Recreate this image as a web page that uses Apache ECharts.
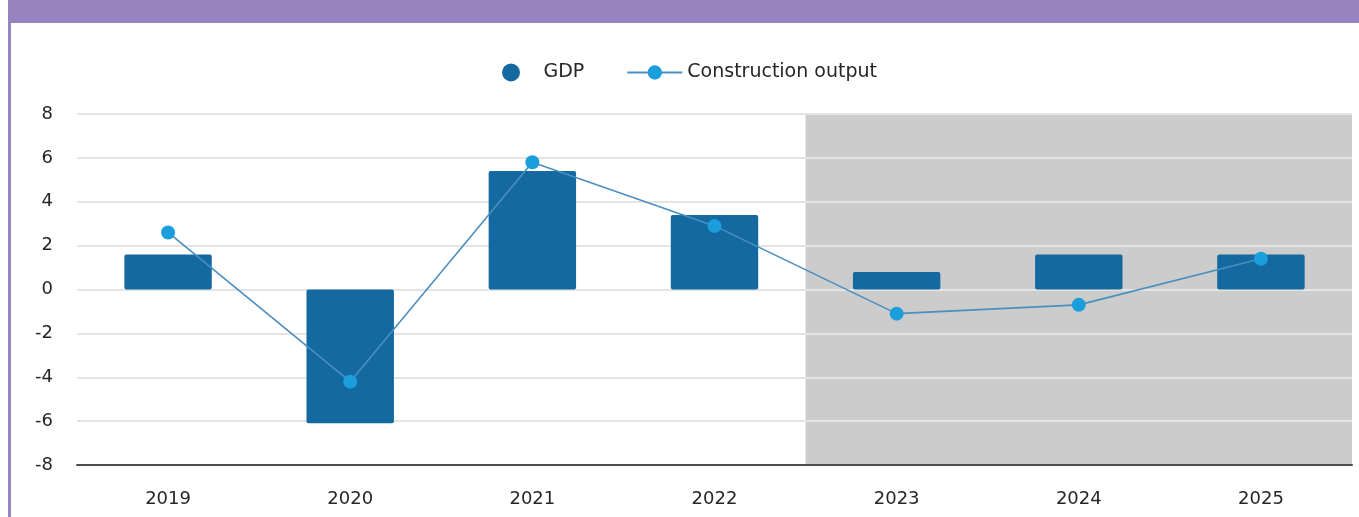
<!DOCTYPE html>
<html>
<head>
<meta charset="utf-8">
<script src="https://cdn.jsdelivr.net/npm/echarts@6/dist/echarts.min.js"></script>
<style>
  html, body { margin: 0; padding: 0; background: #ffffff; }
  #wrap { position: relative; width: 1359px; height: 517px; overflow: hidden; }
  #chart { position: absolute; left: 0; top: 0; width: 1359px; height: 517px; }
  #band { position: absolute; left: 8px; top: 0; width: 1351px; height: 23px; background: #9683c0; }
  #edge { position: absolute; left: 8px; top: 0; width: 3px; height: 517px; background: #9683c0; }
</style>
</head>
<body>
<div id="wrap">
  <div id="chart"></div>
  <div id="band"></div>
  <div id="edge"></div>
</div>
<script>
// ---- data ----
const categories = ['2019', '2020', '2021', '2022', '2023', '2024', '2025'];
const gdp = [1.6, -6.1, 5.4, 3.4, 0.8, 1.6, 1.6];
const construction = [2.6, -4.2, 5.8, 2.9, -1.1, -0.7, 1.4];
const forecastStart = '2023';
const yMin = -8, yMax = 8, yStep = 2;

const FONT = 'DejaVu Sans';
const startIdx = categories.indexOf(forecastStart);

const chart = echarts.init(document.getElementById('chart'), null, { renderer: 'canvas' });
chart.setOption({
  animation: false,
  textStyle: { fontFamily: FONT },
  legend: {
    left: 497,
    top: 58,
    itemWidth: 55,
    itemHeight: 18,
    itemGap: 42,
    textStyle: { fontSize: 19, color: '#262626', fontFamily: FONT },
    data: [
      { name: 'GDP', icon: 'circle' },
      { name: 'Construction output' }
    ]
  },
  grid: { left: 77, right: 7, top: 114, bottom: 52, containLabel: false },
  xAxis: [
    {
      type: 'category',
      data: categories,
      z: 3,
      axisLine: { show: true, onZero: false, lineStyle: { color: '#4d4d4d', width: 2 } },
      axisTick: { show: false },
      axisLabel: { fontSize: 18, color: '#262626', margin: 25, fontFamily: FONT },
      splitLine: { show: false }
    },
    {
      type: 'value',
      min: 0,
      max: categories.length,
      show: false
    }
  ],
  yAxis: {
    type: 'value',
    min: yMin,
    max: yMax,
    interval: yStep,
    z: 2,
    axisLine: { show: false },
    axisTick: { show: false },
    axisLabel: { fontSize: 18, color: '#262626', margin: 24, fontFamily: FONT },
    splitLine: { show: true, lineStyle: { color: '#e3e4e3', width: 2 } }
  },
  series: [
    {
      name: 'forecast',
      type: 'line',
      xAxisIndex: 1,
      yAxisIndex: 0,
      data: [],
      silent: true,
      markArea: {
        silent: true,
        z: 1,
        itemStyle: { color: '#cbcccb' },
        data: [[{ xAxis: startIdx, yAxis: yMin }, { xAxis: categories.length, yAxis: yMax }]]
      }
    },
    {
      name: 'GDP',
      type: 'bar',
      data: gdp,
      barWidth: '48%',
      z: 3,
      itemStyle: { color: '#1369a0', borderRadius: 2 }
    },
    {
      name: 'Construction output',
      type: 'line',
      data: construction,
      z: 4,
      symbol: 'circle',
      symbolSize: 14,
      showSymbol: true,
      lineStyle: { color: '#4a8fbf', width: 1.6 },
      itemStyle: { color: '#1b9fdc' }
    }
  ]
});
</script>
</body>
</html>
